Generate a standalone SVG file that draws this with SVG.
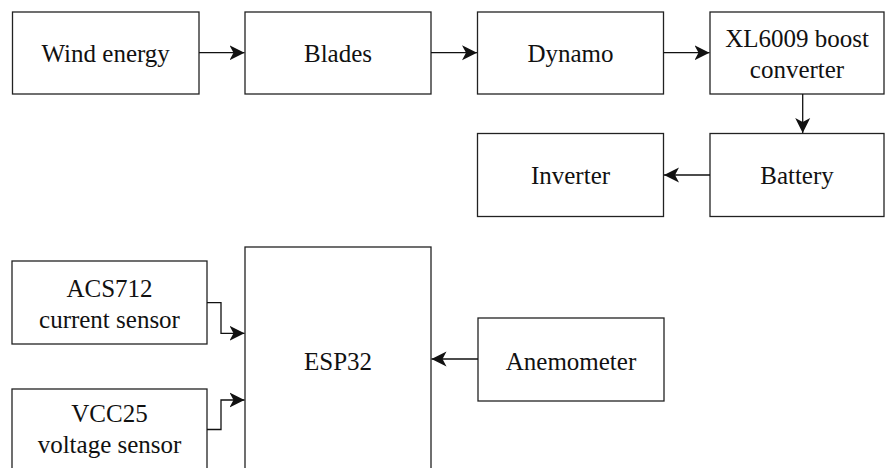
<svg xmlns="http://www.w3.org/2000/svg" width="885" height="468" viewBox="0 0 885 468">
  <style>
    .box { fill: #ffffff; stroke: #222222; stroke-width: 1.3; }
    .lbl { font-family: "Liberation Serif", serif; font-size: 25px; fill: #111111; }
    .wire { fill: none; stroke: #111111; stroke-width: 1.3; }
  </style>
  <defs>
    <marker id="arrow" markerUnits="userSpaceOnUse" markerWidth="16" markerHeight="16" refX="15" refY="8" orient="auto">
      <path d="M0,0.5 L15,8 L0,15.5 L4,8 Z" fill="#111111"/>
    </marker>
  </defs>
  <rect width="885" height="468" fill="#ffffff"/>

  <g id="wind-energy">
    <rect class="box" x="12.5" y="12" width="186.5" height="82"/>
    <text class="lbl" x="105.7" y="61.5" text-anchor="middle">Wind energy</text>
  </g>
  <g id="blades">
    <rect class="box" x="245" y="12" width="186" height="82"/>
    <text class="lbl" x="338" y="61.5" text-anchor="middle">Blades</text>
  </g>
  <g id="dynamo">
    <rect class="box" x="477.5" y="12" width="186" height="82"/>
    <text class="lbl" x="570.5" y="61.5" text-anchor="middle">Dynamo</text>
  </g>
  <g id="boost-converter">
    <rect class="box" x="710" y="12" width="174" height="82"/>
    <text class="lbl" x="797" y="46.5" text-anchor="middle">XL6009 boost</text>
    <text class="lbl" x="797" y="78" text-anchor="middle">converter</text>
  </g>
  <g id="inverter">
    <rect class="box" x="477.5" y="133.5" width="186" height="83"/>
    <text class="lbl" x="570.5" y="183.5" text-anchor="middle">Inverter</text>
  </g>
  <g id="battery">
    <rect class="box" x="710" y="133.5" width="174" height="83"/>
    <text class="lbl" x="797" y="183.5" text-anchor="middle">Battery</text>
  </g>
  <g id="acs712">
    <rect class="box" x="12" y="261" width="195" height="83"/>
    <text class="lbl" x="109.5" y="297" text-anchor="middle">ACS712</text>
    <text class="lbl" x="109.5" y="327.5" text-anchor="middle">current sensor</text>
  </g>
  <g id="vcc25">
    <rect class="box" x="12" y="389" width="195" height="92"/>
    <text class="lbl" x="109.5" y="421.5" text-anchor="middle">VCC25</text>
    <text class="lbl" x="109.5" y="453" text-anchor="middle">voltage sensor</text>
  </g>
  <g id="esp32">
    <rect class="box" x="245" y="247" width="186" height="232"/>
    <text class="lbl" x="338" y="370" text-anchor="middle">ESP32</text>
  </g>
  <g id="anemometer">
    <rect class="box" x="478" y="318" width="186" height="83"/>
    <text class="lbl" x="571" y="369.5" text-anchor="middle">Anemometer</text>
  </g>

  <g id="connectors">
    <path class="wire" d="M199,52.7 H244.5" marker-end="url(#arrow)"/>
    <path class="wire" d="M431,52.7 H477" marker-end="url(#arrow)"/>
    <path class="wire" d="M663.5,52.7 H709.5" marker-end="url(#arrow)"/>
    <path class="wire" d="M802.7,94 V133" marker-end="url(#arrow)"/>
    <path class="wire" d="M710,175 H664" marker-end="url(#arrow)"/>
    <path class="wire" d="M207,302.7 H221 V333.3 H244.5" marker-end="url(#arrow)"/>
    <path class="wire" d="M207,429.5 H221 V400 H244.5" marker-end="url(#arrow)"/>
    <path class="wire" d="M478,359 H431.5" marker-end="url(#arrow)"/>
  </g>
</svg>
